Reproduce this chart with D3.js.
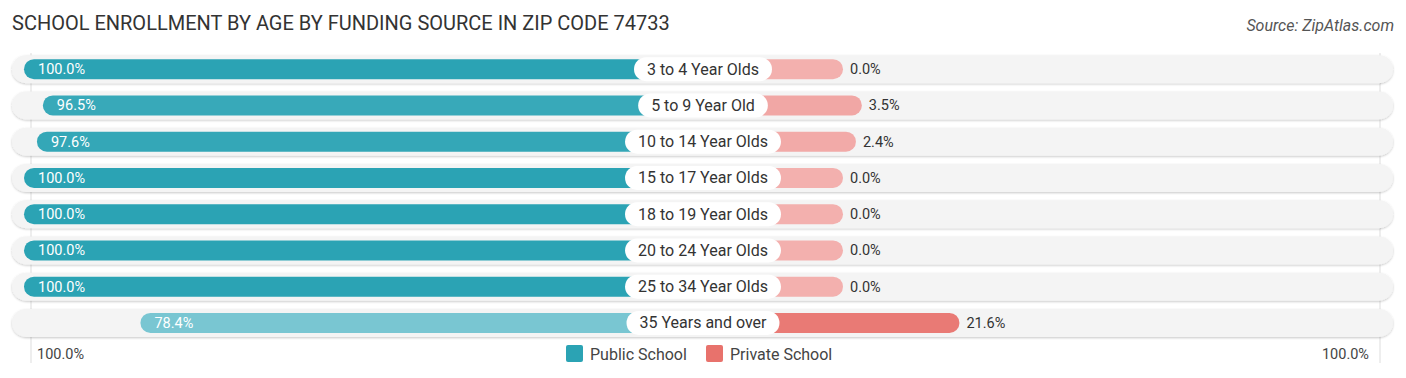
<!DOCTYPE html>
<html><head><meta charset="utf-8">
<script src="https://cdn.jsdelivr.net/npm/d3@7"></script>
<style>body{margin:0;background:#fff;}svg{display:block;font-family:Roboto,"Noto Sans",sans-serif;}</style>
</head><body><svg id="c" width="1406" height="378"></svg>
<script>
const categories = ["3 to 4 Year Olds","5 to 9 Year Old","10 to 14 Year Olds","15 to 17 Year Olds","18 to 19 Year Olds","20 to 24 Year Olds","25 to 34 Year Olds","35 Years and over"];
const publicValues = [100.0, 96.5, 97.6, 100.0, 100.0, 100.0, 100.0, 78.4];
const privateValues = [0.0, 3.5, 2.4, 0.0, 0.0, 0.0, 0.0, 21.6];
const axisLabels = ["100.0%", "100.0%"];
const legendLabels = ["Public School", "Private School"];
const title = "SCHOOL ENROLLMENT BY AGE BY FUNDING SOURCE IN ZIP CODE 74733";
const source = "Source: ZipAtlas.com";

const svg = d3.select("#c");
const cx = 703;
const len = d3.scaleLinear().domain([0, 100]).range([140, 679]);
const y = d3.scaleBand().domain(categories).range([51, 341]).paddingInner(0);
const pubColor = d3.scaleLinear().domain([70, 100]).range(["#98d4dd", "#2ba3b4"]);
const privColor = d3.scaleLinear().domain([0, 25]).range(["#f3b0ae", "#e8726c"]);

const defs = svg.append("defs");
const f = defs.append("filter").attr("id","sh").attr("x","-5%").attr("y","-30%").attr("width","110%").attr("height","160%");
f.append("feDropShadow").attr("dx",0).attr("dy",1).attr("stdDeviation",1.2).attr("flood-color","#000").attr("flood-opacity",0.22);

svg.append("text").attr("x", 12).attr("y", 30).attr("font-size", 20).attr("fill", "#333").text(title);
svg.append("text").attr("x", 1394).attr("y", 31).attr("text-anchor","end").attr("font-size", 16).attr("font-style","italic").attr("fill","#555").text(source);

// grid lines
[cx - len(100) + 7, cx + len(100) - 2].forEach(x => {
  svg.append("line").attr("x1", x).attr("x2", x).attr("y1", 53).attr("y2", 363).attr("stroke", "#ddd").attr("stroke-width", 1);
});

const rows = svg.selectAll("g.row").data(categories).join("g").attr("class","row")
  .attr("transform", d => `translate(0,${y(d) + y.bandwidth()/2})`);

rows.append("rect").attr("x", 12).attr("y", -14).attr("width", 1381).attr("height", 28).attr("rx", 14)
  .attr("fill", "#f4f4f4").attr("filter", "url(#sh)");

rows.append("rect")
  .attr("x", (d,i) => cx - len(publicValues[i])).attr("y", -10).attr("height", 20)
  .attr("width", (d,i) => len(publicValues[i])).attr("rx", 10)
  .attr("fill", (d,i) => pubColor(publicValues[i]));
rows.append("rect")
  .attr("x", cx).attr("y", -10).attr("height", 20)
  .attr("width", (d,i) => len(privateValues[i])).attr("rx", 10)
  .attr("fill", (d,i) => privColor(privateValues[i]));

rows.append("text").attr("x", (d,i) => cx - len(publicValues[i]) + 14).attr("y", 5)
  .attr("font-size", 14.5).attr("fill", "#fff").text((d,i) => publicValues[i].toFixed(1) + "%");
rows.append("text").attr("x", (d,i) => cx + len(privateValues[i]) + 7).attr("y", 5)
  .attr("font-size", 14.5).attr("fill", "#333").text((d,i) => privateValues[i].toFixed(1) + "%");

rows.each(function(d){
  const g = d3.select(this);
  const t = g.append("text").attr("x", cx).attr("y", 5.5).attr("text-anchor","middle").attr("font-size", 16).attr("fill","#333").text(d);
  const w = t.node().getComputedTextLength();
  g.insert("rect", "text:last-of-type").attr("x", cx - w/2 - 13).attr("y", -12).attr("width", w + 26).attr("height", 24).attr("rx", 12).attr("fill", "#fff");
});

svg.append("text").attr("x", 37).attr("y", 359).attr("font-size", 14.5).attr("fill", "#444").text(axisLabels[0]);
svg.append("text").attr("x", 1369).attr("y", 359).attr("text-anchor","end").attr("font-size", 14.5).attr("fill", "#444").text(axisLabels[1]);

const leg = [{x: 566, c: "#2ba3b4"}, {x: 706, c: "#e8726c"}];
leg.forEach((l, i) => {
  svg.append("rect").attr("x", l.x).attr("y", 345).attr("width", 17).attr("height", 17).attr("rx", 2).attr("fill", l.c);
  svg.append("text").attr("x", l.x + 24).attr("y", 359.5).attr("font-size", 16).attr("fill", "#444").text(legendLabels[i]);
});
</script></body></html>
